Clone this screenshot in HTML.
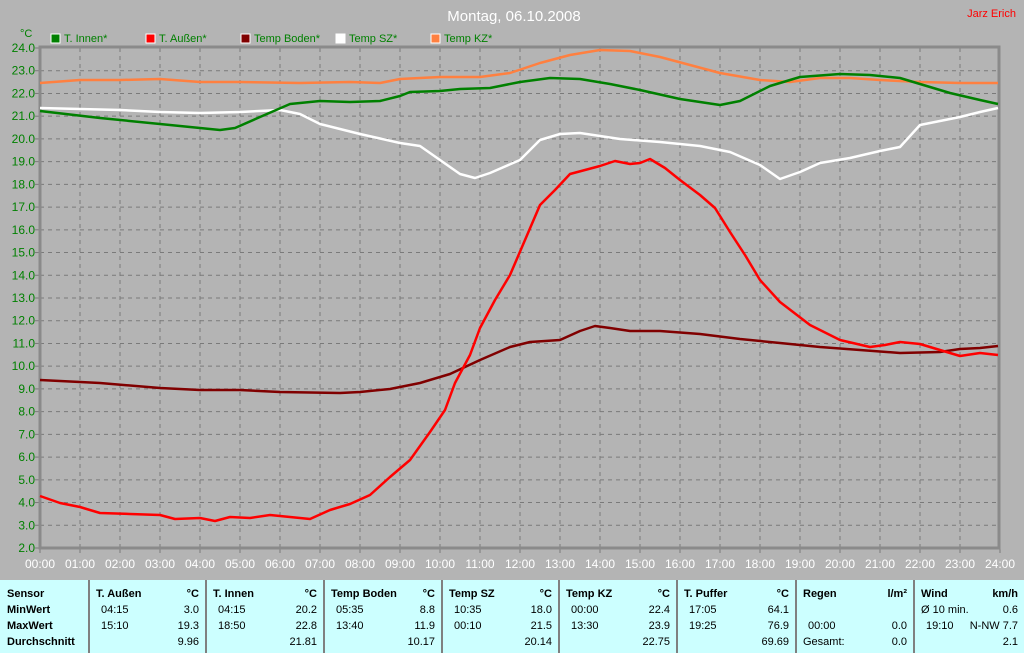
<!DOCTYPE html>
<html><head><meta charset="utf-8"><style>
body{margin:0;width:1024px;height:653px;background:#b4b4b4;overflow:hidden;font-family:"Liberation Sans",sans-serif;}
svg{position:absolute;left:0;top:0}
#tbl{position:absolute;left:0;top:580px;width:1024px;height:73px;background:#ccffff;font-size:11px;}
.c{position:absolute;top:0;height:73px;border-left:2px solid #808080;box-sizing:border-box}
.r{position:absolute;white-space:nowrap}
b{font-weight:bold}
</style></head><body>
<svg width="1024" height="580" xmlns="http://www.w3.org/2000/svg" font-family="Liberation Sans, sans-serif">
<g id="grid" stroke="#7a7a7a" stroke-dasharray="4,4" stroke-width="1"></g>
<rect x="40" y="47" width="959" height="501" fill="none" stroke="#8a8a8a" stroke-width="3"/>
<g id="ylab" fill="#008000" font-size="12" text-anchor="end"></g>
<g id="xlab" fill="#ffffff" font-size="12" text-anchor="middle"></g>
<text x="514" y="21" fill="#ffffff" font-size="15" text-anchor="middle">Montag, 06.10.2008</text>
<text x="1016" y="17" fill="#ff0000" font-size="11" text-anchor="end">Jarz Erich</text>
<text x="20" y="37" fill="#008000" font-size="11">°C</text>
<g font-size="11" fill="#008000">
<rect x="51" y="34" width="9" height="9" fill="#008000" stroke="#fff"/><text x="64" y="42">T. Innen*</text>
<rect x="146" y="34" width="9" height="9" fill="#ff0000" stroke="#fff"/><text x="159" y="42">T. Außen*</text>
<rect x="241" y="34" width="9" height="9" fill="#800000" stroke="#fff"/><text x="254" y="42">Temp Boden*</text>
<rect x="336" y="34" width="9" height="9" fill="#ffffff" stroke="#fff"/><text x="349" y="42">Temp SZ*</text>
<rect x="431" y="34" width="9" height="9" fill="#ff8040" stroke="#fff"/><text x="444" y="42">Temp KZ*</text>
</g>
<g fill="none" stroke-width="2.5" stroke-linejoin="round">
<polyline stroke="#ff8040" points="40,83 80,80 120,80 160,79 200,82 240,82 300,83 350,82 380,83 400,79 440,77 480,77 510,73 540,63 570,55 600,50 630,51 660,57 690,65 720,73 760,80 790,82 820,78 850,78 880,80 920,82 960,83 998,83"/>
<polyline stroke="#ffffff" points="40,108 80,109 120,110 160,112 200,113 240,112 280,110 300,114 320,124 340,129 360,134 400,143 420,146 440,160 460,174 475,178 490,173 520,160 540,140 560,134 580,133 620,139 660,142 700,146 730,152 760,165 780,179 800,172 820,163 850,158 880,151 900,147 920,125 940,121 960,117 980,112 998,108"/>
<polyline stroke="#008000" points="40,111 100,118 160,124 200,128 220,130 235,128 260,117 290,104 320,101 350,102 380,101 400,96 410,92 440,91 460,89 490,88 520,82 550,78 580,79 610,84 640,90 680,99 720,105 740,101 770,86 800,77 840,74 870,75 900,78 920,84 950,93 980,100 998,104"/>
<polyline stroke="#800000" points="40,380 100,383 160,388 200,390 240,390 280,392 340,393 360,392 390,389 420,383 450,374 480,360 510,347 530,342 560,340 580,331 595,326 610,328 630,331 660,331 700,334 740,339 780,343 820,347 860,350 900,353 940,352 960,349 980,348 998,346"/>
<polyline stroke="#ff0000" points="40,496 60,503 80,507 100,513 130,514 160,515 175,519 200,518 215,521 230,517 250,518 270,515 290,517 310,519 330,510 350,504 370,495 390,477 410,460 430,432 445,410 455,383 470,355 480,328 495,300 510,275 525,240 540,205 555,190 570,174 585,170 600,166 615,161 630,164 640,163 650,159 665,168 680,180 700,195 715,208 730,232 745,255 760,280 780,302 810,325 840,340 870,347 885,345 900,342 920,344 940,350 960,356 980,353 998,355"/>
</g>
</svg>
<div id="tbl">
<div class="r" style="left:7px;top:8px"><b>Sensor</b></div>
<div class="r" style="left:7px;top:24px"><b>MinWert</b></div>
<div class="r" style="left:7px;top:40px"><b>MaxWert</b></div>
<div class="r" style="left:7px;top:56px"><b>Durchschnitt</b></div>
</div>
<script>
var g=document.getElementById('grid'),yl=document.getElementById('ylab'),xl=document.getElementById('xlab'),ns='http://www.w3.org/2000/svg';
function el(p,t,a,txt){var e=document.createElementNS(ns,t);for(var k in a)e.setAttribute(k,a[k]);if(txt)e.textContent=txt;p.appendChild(e);}
for(var i=0;i<=22;i++){var y=48+i*500/22;if(i>0&&i<22)el(g,'line',{x1:40,x2:998,y1:y,y2:y});el(yl,'text',{x:35,y:y+4},(24-i).toFixed(1));el(g,'line',{x1:35,x2:40,y1:y,y2:y,'stroke-dasharray':'none'});}
for(var h=0;h<=24;h++){var x=40+h*40;if(h>0&&h<24)el(g,'line',{x1:x,x2:x,y1:48,y2:548});el(xl,'text',{x:x,y:568},(h<10?'0':'')+h+':00');el(g,'line',{x1:x,x2:x,y1:548,y2:553,'stroke-dasharray':'none'});}
var cols=[
[88,'T. Außen','°C',['04:15','3.0'],['15:10','19.3'],['','9.96']],
[205,'T. Innen','°C',['04:15','20.2'],['18:50','22.8'],['','21.81']],
[323,'Temp Boden','°C',['05:35','8.8'],['13:40','11.9'],['','10.17']],
[441,'Temp SZ','°C',['10:35','18.0'],['00:10','21.5'],['','20.14']],
[558,'Temp KZ','°C',['00:00','22.4'],['13:30','23.9'],['','22.75']],
[676,'T. Puffer','°C',['17:05','64.1'],['19:25','76.9'],['','69.69']],
[795,'Regen','l/m²',['',''],['00:00','0.0'],['Gesamt:','0.0']],
[913,'Wind','km/h',['Ø 10 min.','0.6'],['19:10','N-NW 7.7'],['','2.1']]];
var t=document.getElementById('tbl'),h='';
cols.forEach(function(c,i){var w=(i<7?cols[i+1][0]:1024)-c[0];
h+='<div class="c" style="left:'+c[0]+'px;width:'+w+'px">'+
'<div class="r" style="left:6px;top:8px"><b>'+c[1]+'</b></div><div class="r" style="right:6px;top:8px"><b>'+c[2]+'</b></div>';
[c[3],c[4],c[5]].forEach(function(r,j){var top=24+j*16;var lx=(r[0]=='Ø 10 min.'||r[0]=='Gesamt:')?6:11;
h+='<div class="r" style="left:'+lx+'px;top:'+top+'px">'+r[0]+'</div><div class="r" style="right:6px;top:'+top+'px">'+r[1]+'</div>';});
h+='</div>';});
t.insertAdjacentHTML('beforeend',h);
</script>
</body></html>
